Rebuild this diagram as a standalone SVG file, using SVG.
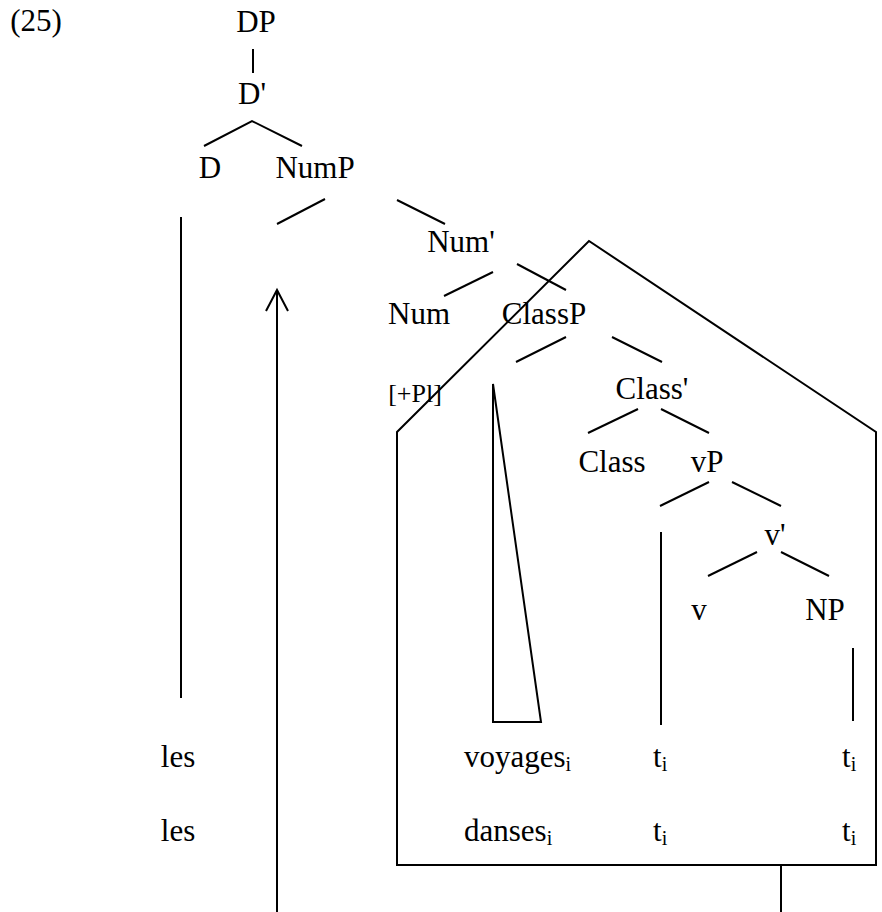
<svg xmlns="http://www.w3.org/2000/svg" width="882" height="912" viewBox="0 0 882 912">
<style>
  text { font-family: "Liberation Serif", "Times New Roman", serif; font-size: 31px; fill: #000; }
  .c { text-anchor: middle; }
  .small { font-size: 26px; }
  .sub { font-size: 20px; }
  .ln { stroke: #000; stroke-width: 2; fill: none; stroke-linecap: butt; }
</style>
<rect width="882" height="912" fill="#fff"/>
<g id="connectors" class="ln">
  <line x1="253" y1="49" x2="253" y2="73"/>
  <polyline points="204,146 252,121 302,146"/>
  <line x1="325" y1="199" x2="277" y2="224"/>
  <line x1="397" y1="200" x2="445" y2="224"/>
  <line x1="493" y1="272" x2="444" y2="296"/>
  <line x1="517" y1="264" x2="566" y2="290"/>
  <line x1="566" y1="337" x2="516" y2="362"/>
  <line x1="612" y1="337" x2="662" y2="362"/>
  <line x1="638" y1="409" x2="588" y2="433"/>
  <line x1="661" y1="409" x2="709" y2="433"/>
  <line x1="709" y1="482" x2="660" y2="506"/>
  <line x1="732" y1="482" x2="781" y2="506"/>
  <line x1="757" y1="552" x2="708" y2="576"/>
  <line x1="781" y1="552" x2="829" y2="576"/>
  <line x1="181" y1="217" x2="181" y2="698"/>
  <line x1="277" y1="290" x2="277" y2="912"/>
  <polyline points="266,311 277,290 288,311"/>
  <polygon points="493,384 493,722 541,722"/>
  <line x1="661" y1="532" x2="661" y2="725"/>
  <line x1="853" y1="648" x2="853" y2="721"/>
  <polygon points="397,865 397,432 589,241 876,432 876,865"/>
  <line x1="781" y1="865" x2="781" y2="912"/>
</g>
<g id="label-25"><text x="36" y="31" class="c">(25)</text></g>
<g id="node-DP"><text x="256" y="32" class="c">DP</text></g>
<g id="node-Dbar"><text x="252" y="104" class="c">D'</text></g>
<g id="node-D"><text x="210" y="178" class="c">D</text></g>
<g id="node-NumP"><text x="315" y="178" class="c">NumP</text></g>
<g id="node-Numbar"><text x="461" y="252" class="c">Num'</text></g>
<g id="node-Num"><text x="419" y="324" class="c">Num</text></g>
<g id="node-ClassP"><text x="544" y="324" class="c">ClassP</text></g>
<g id="feature-Pl"><text x="415" y="402" class="c small">[+Pl]</text></g>
<g id="node-Classbar"><text x="652" y="399" class="c">Class'</text></g>
<g id="node-Class"><text x="612" y="472" class="c">Class</text></g>
<g id="node-vP"><text x="707" y="472" class="c">vP</text></g>
<g id="node-vbar"><text x="775" y="545" class="c">v'</text></g>
<g id="node-v"><text x="699" y="620" class="c">v</text></g>
<g id="node-NP"><text x="825" y="620" class="c">NP</text></g>
<g id="row1">
  <text x="178" y="767" class="c">les</text>
  <text x="464" y="767">voyages<tspan class="sub" dy="4">i</tspan></text>
  <text x="653" y="767">t<tspan class="sub" dy="4">i</tspan></text>
  <text x="842" y="767">t<tspan class="sub" dy="4">i</tspan></text>
</g>
<g id="row2">
  <text x="178" y="841" class="c">les</text>
  <text x="464" y="841">danses<tspan class="sub" dy="4">i</tspan></text>
  <text x="653" y="841">t<tspan class="sub" dy="4">i</tspan></text>
  <text x="842" y="841">t<tspan class="sub" dy="4">i</tspan></text>
</g>
</svg>
